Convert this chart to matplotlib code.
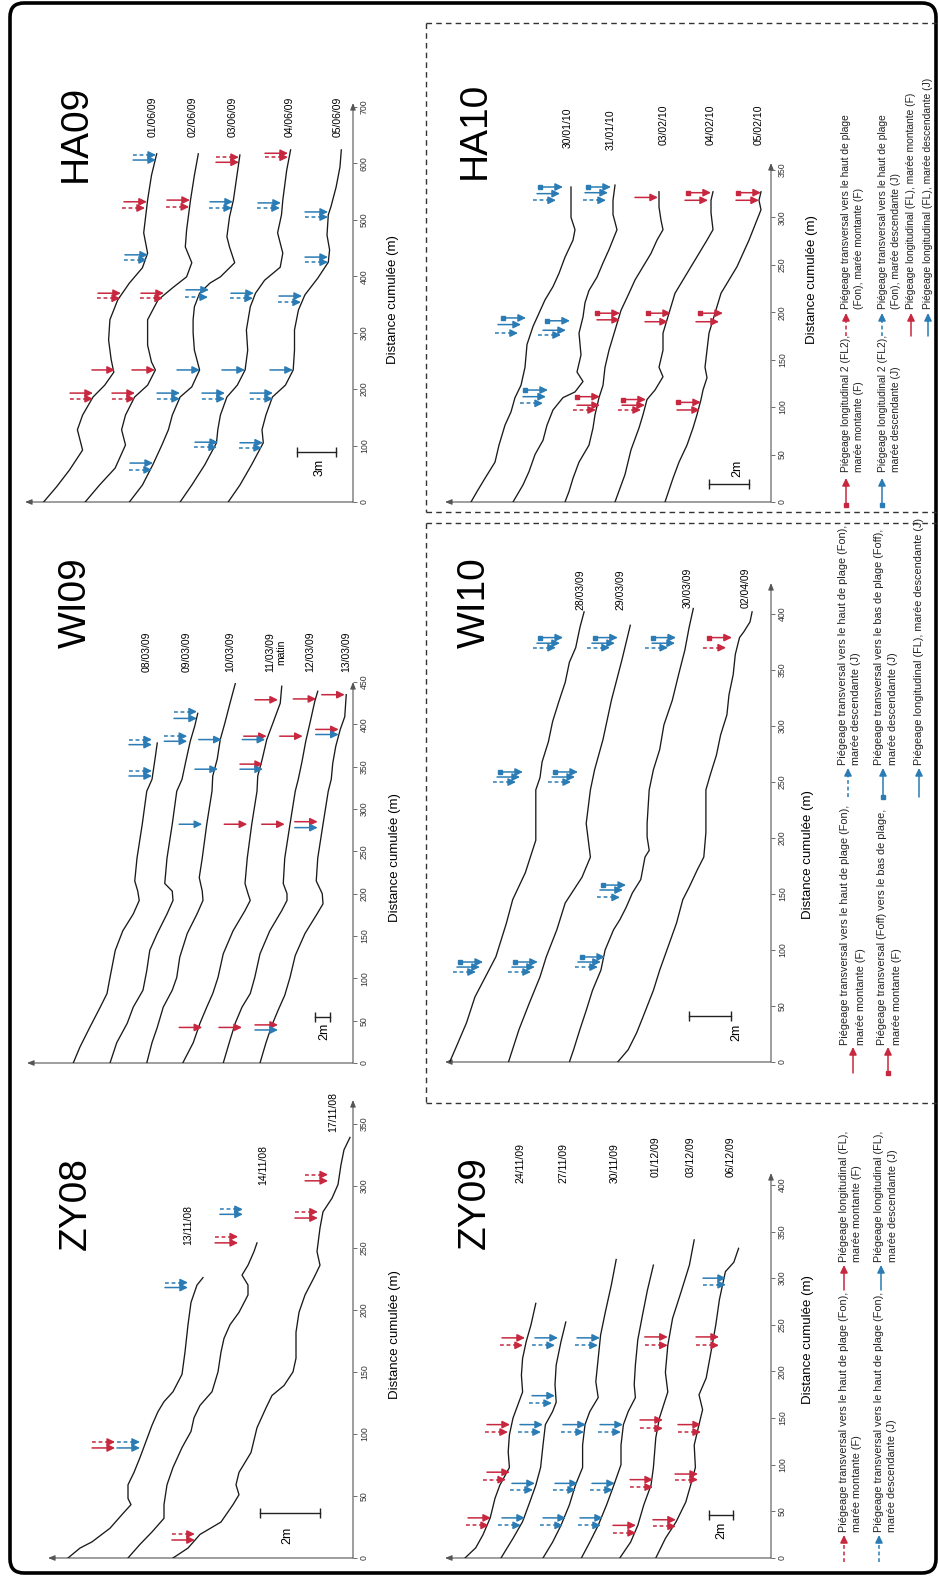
import numpy as np
import matplotlib
matplotlib.use('Agg')
import matplotlib.pyplot as plt
from matplotlib.patches import FancyBboxPatch

plt.rcParams['font.family'] = ['Liberation Sans', 'DejaVu Sans']

RED = '#c8283f'
BLUE = '#2b7cb5'
AXC = '#555555'

# ---------------- data: beach profiles (distance m, relative elevation m) -------------
ha09_dates = ['01/06/09', '02/06/09', '03/06/09', '04/06/09', '05/06/09']
ha09_dist = [
    [617, 579, 535, 477, 441, 415, 388, 358, 323, 287, 252, 230, 207, 186, 154, 128, 92, 57, 27, 0],
    [617, 579, 535, 482, 452, 424, 399, 381, 358, 323, 278, 248, 234, 207, 186, 154, 128, 101, 60, 30, 0],
    [615, 583, 535, 505, 470, 452, 424, 399, 388, 370, 346, 323, 300, 269, 234, 204, 186, 154, 128, 101, 66, 30, 0],
    [624, 588, 535, 509, 477, 441, 416, 393, 370, 346, 305, 269, 234, 207, 186, 154, 128, 105, 66, 30, 0],
    [624, 594, 558, 523, 509, 473, 447, 425, 397, 367, 340, 305, 269, 234, 207, 186, 154, 128, 105, 66, 30, 0],
]
ha09_elev = [
    [15.1, 15.5, 15.8, 16.1, 15.8, 16.2, 17.2, 18.1, 18.7, 18.8, 18.6, 18.4, 19.1, 20.0, 20.8, 21.2, 20.8, 21.8, 22.8, 23.8],
    [11.9, 12.2, 12.5, 12.8, 12.9, 12.4, 12.8, 13.8, 15.0, 15.8, 15.8, 15.5, 15.2, 15.8, 16.8, 17.5, 17.8, 17.5, 18.3, 19.5, 20.6],
    [8.7, 8.9, 9.2, 9.5, 9.7, 9.5, 9.1, 10.2, 11.0, 11.8, 12.2, 12.3, 12.3, 12.2, 11.8, 12.4, 13.3, 13.9, 14.2, 14.7, 15.4, 16.2, 17.2],
    [4.8, 5.1, 5.4, 5.5, 5.8, 5.4, 5.6, 6.8, 7.5, 7.9, 8.2, 8.1, 8.3, 8.9, 9.7, 10.2, 10.4, 10.5, 11.4, 12.4, 13.3],
    [0.9, 1.0, 1.3, 1.7, 1.9, 2.0, 1.8, 1.9, 2.7, 3.7, 4.2, 4.5, 4.5, 4.6, 5.2, 6.2, 6.7, 7.0, 6.9, 7.8, 8.7, 9.6],
]
ha09_arr_dist = [615, 606, 611, 602, 618, 611, 532, 521, 535, 523, 532, 521, 530, 521, 514, 505,
                 438, 429, 434, 425, 370, 361, 370, 361, 376, 363, 370, 361, 365, 354,
                 234, 234, 234, 234, 234, 193, 183, 193, 183, 193, 183, 193, 183, 193, 183,
                 69, 57, 106, 97, 105, 96]
ha09_arr_elev = [15.15, 15.15, 8.77, 8.77, 5.0, 5.0, 15.85, 16.0, 12.54, 12.6, 9.23, 9.3, 5.54, 5.62, 1.92, 1.92,
                 15.77, 15.85, 1.92, 1.92, 17.85, 17.92, 14.54, 14.62, 11.08, 11.15, 7.62, 7.69, 3.92, 4.0,
                 18.31, 15.23, 11.77, 8.31, 4.62, 20.0, 20.0, 16.77, 16.77, 13.31, 13.31, 9.85, 9.85, 6.15, 6.15,
                 15.38, 15.46, 10.38, 10.46, 6.92, 7.0]
ha09_arr_kind = ['Jd', 'Js', 'Fd', 'Fs', 'Fs', 'Fd', 'Fs', 'Fd', 'Fs', 'Fd', 'Js', 'Jd', 'Js', 'Jd', 'Js', 'Jd',
                 'Js', 'Jd', 'Js', 'Jd', 'Fs', 'Fd', 'Fs', 'Fd', 'Js', 'Jd', 'Js', 'Jd', 'Js', 'Jd',
                 'Fs', 'Fs', 'Js', 'Js', 'Js', 'Fs', 'Fd', 'Fs', 'Fd', 'Js', 'Jd', 'Js', 'Jd', 'Js', 'Jd',
                 'Js', 'Jd', 'Js', 'Jd', 'Js', 'Jd']

wi09_dates = ['08/03/09', '09/03/09', '10/03/09', '11/03/09\nmatin', '12/03/09', '13/03/09']
wi09_dist = [
    [378, 359, 335, 321, 282, 242, 215, 203, 192, 176, 156, 133, 101, 82, 66, 42, 19, 0],
    [413, 398, 380, 356, 335, 321, 282, 242, 212, 203, 192, 176, 153, 133, 109, 86, 66, 47, 24, 0],
    [448, 425, 401, 382, 359, 339, 321, 282, 242, 219, 203, 192, 176, 153, 125, 101, 86, 66, 42, 24, 0],
    [445, 425, 401, 382, 359, 339, 321, 282, 242, 212, 200, 192, 180, 156, 129, 101, 82, 66, 47, 24, 0],
    [439, 427, 403, 380, 356, 335, 321, 282, 242, 212, 200, 192, 180, 156, 129, 101, 82, 66, 47, 27, 0],
    [435, 409, 394, 374, 354, 335, 321, 282, 242, 215, 200, 188, 176, 153, 127, 101, 80, 62, 45, 24, 0],
]
wi09_elev = [
    [26.1, 26.4, 26.8, 27.5, 28.1, 28.8, 29.1, 28.7, 28.5, 29.3, 30.7, 31.7, 32.4, 32.8, 33.7, 35.1, 36.4, 37.3],
    [20.7, 21.1, 21.7, 22.3, 22.8, 23.5, 24.1, 24.8, 25.1, 24.1, 24.0, 24.8, 26.1, 27.1, 27.5, 28.0, 29.3, 30.1, 31.5, 32.4],
    [15.7, 16.4, 17.1, 17.7, 18.1, 18.7, 18.8, 19.5, 20.1, 20.5, 20.1, 20.0, 20.8, 22.1, 23.1, 23.5, 24.1, 25.3, 26.1, 26.8, 27.5],
    [9.5, 9.7, 10.7, 11.5, 12.1, 12.7, 12.8, 13.5, 14.1, 14.4, 14.0, 13.7, 14.4, 16.0, 17.3, 18.0, 18.7, 19.5, 20.4, 21.3, 22.7],
    [4.7, 5.1, 5.7, 6.3, 6.8, 7.3, 7.7, 8.4, 9.1, 9.3, 8.8, 8.8, 9.5, 11.1, 12.4, 13.1, 13.7, 14.8, 15.7, 16.4, 17.3],
    [0.9, 1.1, 1.7, 2.3, 2.7, 2.9, 3.3, 4.0, 4.7, 4.9, 4.1, 4.0, 4.8, 6.4, 7.7, 8.4, 9.1, 10.0, 10.8, 11.6, 12.4],
]
wi09_arr_dist = [382, 376, 345, 339, 415, 407, 386, 380, 382, 347, 429, 386, 382, 353, 347, 430, 386,
                 435, 394, 388, 282, 282, 282, 285, 278, 42, 42, 45, 39]
wi09_arr_elev = [26.8, 26.8, 26.8, 26.8, 20.8, 20.8, 22.1, 22.1, 17.5, 18.0, 10.0, 11.5, 11.7, 12.0, 12.0, 4.9, 6.7,
                 1.1, 1.9, 1.9, 20.1, 14.1, 9.1, 4.7, 4.7, 20.1, 14.8, 10.0, 10.0]
wi09_arr_kind = ['Jd', 'Js', 'Jd', 'Js', 'Jd', 'Js', 'Jd', 'Js', 'Js', 'Js', 'Fs', 'Fs', 'Js', 'Fs', 'Js', 'Fs', 'Fs',
                 'Fs', 'Fs', 'Js', 'Js', 'Fs', 'Fs', 'Fs', 'Js', 'Fs', 'Fs', 'Fs', 'Js']

zy08_dates = ['13/11/08', '14/11/08', '17/11/08']
zy08_dist = [
    [226, 220, 206, 188, 166, 148, 134, 126, 118, 107, 94, 81, 69, 59, 48, 43, 35, 24, 13, 8, 0],
    [254, 247, 236, 228, 220, 212, 198, 188, 177, 166, 150, 134, 123, 113, 102, 89, 73, 59, 43, 32, 21, 11, 0],
    [339, 329, 317, 301, 290, 279, 266, 247, 236, 226, 212, 198, 182, 161, 150, 139, 131, 121, 105, 85, 69, 59, 51, 43, 29, 19, 8, 0],
]
zy08_elev = [
    [5.0, 5.2, 5.4, 5.5, 5.6, 5.7, 6.0, 6.3, 6.5, 6.7, 6.9, 7.1, 7.3, 7.5, 7.5, 7.4, 7.7, 8.1, 8.7, 9.1, 9.5],
    [3.2, 3.3, 3.5, 3.7, 3.5, 3.5, 3.8, 4.1, 4.3, 4.4, 4.5, 4.7, 5.1, 5.3, 5.4, 5.7, 6.0, 6.2, 6.3, 6.3, 6.7, 7.1, 7.5],
    [0.1, 0.3, 0.4, 0.5, 0.7, 1.0, 1.1, 1.2, 1.1, 1.3, 1.6, 1.8, 1.9, 1.9, 2.0, 2.3, 2.7, 2.9, 3.2, 3.4, 3.8, 3.9, 3.8, 4.0, 4.4, 5.1, 5.5, 6.0],
]
zy08_arr_dist = [222, 218, 259, 254, 281, 277, 279, 274, 309, 304, 93.5, 88.7, 93.5, 88.7, 19.3, 14.5]
zy08_arr_elev = [5.5, 5.5, 3.83, 3.83, 3.67, 3.67, 1.17, 1.17, 0.83, 0.83, 7.93, 7.93, 7.1, 7.1, 5.27, 5.27]
zy08_arr_kind = ['Jd', 'Js', 'Fd', 'Fs', 'Jd', 'Js', 'Fd', 'Fs', 'Fd', 'Fs', 'Fd', 'Fs', 'Jd', 'Js', 'Fd', 'Fs']

ha10_dates = ['30/01/10', '31/01/10', '03/02/10', '04/02/10', '05/02/10']
ha10_dist = [
    [332, 318, 300, 287, 276, 258, 241, 227, 213, 199, 185, 166, 142, 123, 110, 95, 81, 60, 42, 25, 11, 0],
    [334, 318, 303, 287, 266, 252, 237, 223, 210, 195, 178, 155, 137, 127, 116, 110, 97, 81, 65, 50, 32, 18, 0],
    [327, 311, 297, 287, 276, 262, 248, 234, 220, 202, 181, 160, 142, 123, 110, 92, 78, 60, 42, 25, 11, 0],
    [327, 318, 305, 287, 276, 262, 248, 234, 220, 206, 192, 178, 160, 142, 132, 118, 108, 92, 78, 55, 29, 0],
    [327, 318, 308, 292, 276, 262, 248, 234, 220, 206, 192, 178, 160, 142, 131, 118, 108, 92, 78, 60, 42, 25, 0],
]
ha10_elev = [
    [10.0, 10.0, 10.0, 9.8, 9.9, 10.3, 10.6, 10.9, 11.3, 11.6, 11.9, 12.2, 12.3, 12.5, 12.8, 13.0, 13.3, 13.6, 13.8, 14.3, 14.7, 15.0],
    [7.8, 7.9, 7.9, 7.7, 8.1, 8.4, 8.7, 9.1, 9.3, 9.4, 9.6, 9.5, 9.7, 9.4, 9.8, 10.4, 10.9, 11.2, 11.4, 11.8, 12.1, 12.4, 12.9],
    [5.6, 5.6, 5.5, 5.4, 5.7, 6.0, 6.4, 6.8, 7.1, 7.5, 7.8, 8.1, 8.3, 8.4, 8.6, 8.8, 8.9, 9.1, 9.6, 9.9, 10.1, 10.3],
    [2.9, 3.0, 3.0, 2.9, 3.2, 3.6, 4.0, 4.4, 4.8, 5.0, 5.2, 5.4, 5.4, 5.6, 5.4, 5.8, 6.2, 6.4, 6.6, 7.0, 7.3, 7.8],
    [0.5, 0.6, 0.5, 0.8, 1.1, 1.4, 1.7, 2.1, 2.5, 2.7, 2.9, 3.1, 3.2, 3.3, 3.2, 3.4, 3.5, 3.7, 3.9, 4.2, 4.6, 4.9, 5.3],
]
ha10_arr_dist = [332, 325, 318, 332, 326, 318, 321, 326, 318, 326, 318,
                 194, 187, 178, 191, 181, 176, 199, 192, 199, 190, 199, 190,
                 118, 111, 104, 111, 102, 97, 108, 102, 97, 105, 97]
ha10_arr_elev = [10.4, 10.55, 10.75, 8.0, 8.15, 8.25, 5.65, 3.0, 3.15, 0.5, 0.6,
                 12.25, 12.5, 12.65, 10.05, 10.25, 10.5, 7.55, 7.55, 5.0, 5.15, 2.4, 2.6,
                 11.15, 11.25, 11.4, 8.55, 8.55, 8.75, 6.25, 6.3, 6.5, 3.5, 3.55]
ha10_arr_kind = ['J2', 'Js', 'Jd', 'J2', 'Js', 'Jd', 'Fs', 'F2', 'Fs', 'F2', 'Fs',
                 'J2', 'Js', 'Jd', 'J2', 'Js', 'Jd', 'F2', 'Fs', 'F2', 'Fs', 'F2', 'Fs',
                 'J2', 'Js', 'Jd', 'F2', 'Fs', 'Fd', 'F2', 'Fs', 'Fd', 'F2', 'Fs']

wi10_dates = ['28/03/09', '29/03/09', '30/03/09', '02/04/09']
wi10_dist = [
    [402, 388, 370, 357, 339, 322, 304, 286, 268, 254, 243, 213, 198, 169, 145, 124, 94, 76, 58, 35, 13, 0],
    [390, 359, 323, 288, 261, 243, 213, 183, 165, 142, 118, 94, 76, 53, 29, 0],
    [405, 388, 368, 346, 323, 301, 279, 261, 243, 213, 201, 189, 183, 163, 151, 138, 127, 118, 100, 82, 64, 46, 29, 11, 0],
    [402, 393, 384, 379, 364, 346, 328, 310, 292, 274, 256, 243, 205, 183, 172, 156, 145, 124, 103, 82, 64, 40, 26, 11, 0],
]
wi10_elev = [
    [8.9, 9.1, 9.3, 9.6, 9.8, 10.1, 10.4, 10.6, 10.9, 11.0, 11.2, 11.2, 11.2, 11.7, 12.3, 12.6, 13.1, 13.6, 14.1, 14.5, 15.0, 15.3],
    [6.7, 7.1, 7.6, 8.0, 8.4, 8.6, 8.8, 8.6, 9.0, 9.8, 10.2, 10.7, 11.0, 11.5, 12.0, 12.5],
    [3.7, 3.9, 4.1, 4.4, 4.7, 5.1, 5.3, 5.6, 5.8, 5.9, 5.9, 5.8, 6.0, 6.2, 6.6, 6.9, 7.2, 7.5, 7.9, 8.1, 8.5, 8.8, 9.1, 9.4, 9.6],
    [0.9, 1.0, 1.3, 1.5, 1.7, 1.8, 2.0, 2.1, 2.4, 2.6, 2.9, 3.1, 3.1, 3.2, 3.5, 3.9, 4.2, 4.5, 4.9, 5.3, 5.6, 6.1, 6.4, 6.8, 7.3],
]
wi10_arr_dist = [379, 374, 370, 379, 374, 370, 379, 374, 370, 379, 370,
                 259, 254.5, 250, 259, 254.5, 250, 158, 153.6, 147,
                 89.3, 84.8, 80.4, 89.3, 84.8, 80.4, 93.8, 89.3, 84.8]
wi10_arr_elev = [9.9, 10.05, 10.24, 7.29, 7.43, 7.67, 4.52, 4.57, 4.9, 1.86, 2.14,
                 11.81, 11.95, 12.14, 9.19, 9.33, 9.52, 6.9, 7.05, 7.19,
                 13.71, 13.86, 14.05, 11.1, 11.24, 11.43, 7.9, 8.1, 8.24]
wi10_arr_kind = ['J2', 'Js', 'Jd', 'J2', 'Js', 'Jd', 'J2', 'Js', 'Jd', 'F2', 'Fd',
                 'J2', 'Js', 'Jd', 'J2', 'Js', 'Jd', 'J2', 'Js', 'Jd',
                 'J2', 'Js', 'Jd', 'J2', 'Js', 'Jd', 'J2', 'Js', 'Jd']

zy09_dates = ['24/11/09', '27/11/09', '30/11/09', '01/12/09', '03/12/09', '06/12/09']
zy09_dist = [
    [273, 250, 232, 214, 196, 178, 150, 132, 114, 97, 78, 64, 43, 25, 11, 0],
    [253, 232, 207, 186, 167, 157, 143, 121, 97, 78, 60, 39, 21, 0],
    [320, 293, 264, 239, 214, 189, 172, 157, 143, 121, 97, 78, 57, 35, 17, 0],
    [314, 287, 261, 234, 207, 186, 172, 157, 143, 121, 100, 78, 57, 35, 17, 0],
    [341, 314, 285, 257, 228, 199, 178, 150, 129, 97, 78, 57, 35, 17, 0],
    [332, 317, 307, 277, 250, 221, 193, 175, 159, 143, 121, 97, 78, 60, 39, 21, 0],
]
zy09_elev = [
    [19.6, 20.0, 20.4, 20.7, 20.8, 20.7, 21.5, 21.8, 21.9, 21.8, 22.6, 23.0, 23.4, 24.0, 24.6, 25.5],
    [17.1, 17.5, 17.9, 18.0, 17.9, 18.2, 18.8, 19.0, 19.2, 19.6, 20.1, 20.7, 21.5, 22.5],
    [12.9, 13.3, 13.8, 14.2, 14.4, 14.6, 14.4, 15.1, 15.5, 15.7, 15.7, 16.3, 16.8, 17.5, 18.2, 19.0],
    [9.8, 10.3, 10.7, 11.1, 11.3, 11.4, 11.3, 11.9, 12.3, 12.5, 12.5, 13.1, 13.7, 14.4, 15.1, 15.8],
    [6.4, 6.8, 7.5, 8.2, 8.6, 8.8, 8.6, 9.3, 9.6, 9.8, 10.0, 10.6, 11.1, 11.7, 12.6],
    [2.7, 3.1, 3.8, 4.3, 4.6, 5.0, 5.4, 6.0, 5.7, 6.0, 6.4, 6.3, 6.7, 7.1, 7.9, 8.8, 9.6],
]
zy09_arr_dist = [236, 228, 236, 228, 236, 228, 174, 166,
                 143, 135, 143, 135, 143, 135, 143, 135,
                 92, 84, 80, 73, 80, 73, 80, 73,
                 43, 35, 43, 35, 43, 35, 43, 35, 35, 27,
                 300, 293, 148, 139, 143, 135, 90, 84, 84, 76, 41, 34,
                 237, 228, 237, 228]
zy09_arr_elev = [20.5, 20.67, 17.75, 18.0, 14.25, 14.42, 18.0, 18.25,
                 21.75, 21.92, 19.0, 19.17, 15.42, 15.58, 12.33, 12.5,
                 21.75, 22.08, 19.67, 19.83, 16.08, 16.25, 13.0, 13.17,
                 23.33, 23.5, 20.5, 20.83, 17.08, 17.33, 14.0, 14.17, 11.25, 11.25,
                 3.75, 3.75, 9.0, 9.0, 5.83, 5.83, 6.08, 6.08, 9.83, 9.83, 7.92, 7.92,
                 8.6, 8.6, 4.33, 4.33]
zy09_arr_kind = ['Fs', 'Fd', 'Js', 'Jd', 'Js', 'Jd', 'Js', 'Jd',
                 'Fs', 'Fd', 'Js', 'Jd', 'Js', 'Jd', 'Js', 'Jd',
                 'Fs', 'Fd', 'Js', 'Jd', 'Js', 'Jd', 'Js', 'Jd',
                 'Fs', 'Fd', 'Js', 'Jd', 'Js', 'Jd', 'Js', 'Jd', 'Fs', 'Fd',
                 'Js', 'Jd', 'Fs', 'Fd', 'Fs', 'Fd', 'Fs', 'Fd', 'Fs', 'Fd', 'Fs', 'Fd',
                 'Fs', 'Fd', 'Fs', 'Fd']

# ---------------- layout (page pixels) -------------
W, H = 939, 1577
fig = plt.figure(figsize=(W / 100, H / 100), dpi=100)
page = fig.add_axes([0, 0, 1, 1])
page.set_xlim(0, W)
page.set_ylim(H, 0)
page.axis('off')


def arrow_style(col, lw=1.1):
    return dict(arrowstyle='-|>,head_length=0.45,head_width=0.22', color=col, lw=lw,
                shrinkA=0, shrinkB=0, mutation_scale=10)


def draw_arrow(ax, e, d, kind, L=23):
    col = RED if kind[0] == 'F' else BLUE
    tip = ax.transData.transform((e, d))
    tail = ax.transData.inverted().transform((tip[0] - L, tip[1]))
    neck = ax.transData.inverted().transform((tip[0] - 8, tip[1]))
    if kind[1] == 'd':
        ax.plot([tail[0], neck[0]], [d, d], color=col, lw=1.1, ls=(0, (2.5, 1.8)), zorder=4)
        ax.annotate('', xy=(e, d), xytext=(neck[0], d), arrowprops=arrow_style(col), zorder=4)
    else:
        ax.annotate('', xy=(e, d), xytext=(tail[0], d), arrowprops=arrow_style(col), zorder=4)
    if kind[1] == '2':
        ax.plot(tail[0], d, marker='s', ms=3.2, color=col, zorder=4)


def panel(xr, y0, xl, yt, ppe, ppd, ticks):
    ax = fig.add_axes([xl / W, 1 - y0 / H, (xr - xl) / W, (y0 - yt) / H])
    ax.set_xlim((xr - xl) / ppe, 0)
    ax.set_ylim(0, (y0 - yt) / ppd)
    ax.patch.set_visible(False)
    for s in ax.spines.values():
        s.set_visible(False)
    ax.set_xticks([])
    ax.yaxis.tick_right()
    ax.set_yticks(ticks)
    ax.set_yticklabels([str(t) for t in ticks], rotation=90, va='center', ha='left')
    ax.tick_params(axis='y', length=3, width=0.6, color=AXC, labelsize=6.3,
                   labelcolor='#333333', pad=2)
    ap = dict(arrowstyle='-|>,head_length=0.5,head_width=0.2', color=AXC, lw=0.8,
              shrinkA=0, shrinkB=0, mutation_scale=8)
    ax.annotate('', xy=(1, 1), xytext=(1, 0), xycoords='axes fraction', arrowprops=ap)
    ax.annotate('', xy=(0, 0), xytext=(1, 0), xycoords='axes fraction', arrowprops=ap)
    return ax


panels = [
    # name, (xr, y0, x_left, y_top, px/m elev, px/m dist), ticks, profiles, arrows
    ('HA09', (353, 502, 25, 103, 13, 0.5643), range(0, 701, 100),
     ha09_dist, ha09_elev, (ha09_arr_dist, ha09_arr_elev, ha09_arr_kind)),
    ('WI09', (353, 1063, 27, 682, 7.5, 0.8503), range(0, 451, 50),
     wi09_dist, wi09_elev, (wi09_arr_dist, wi09_arr_elev, wi09_arr_kind)),
    ('ZY08', (353, 1558, 48, 1100, 30, 1.2407), range(0, 351, 50),
     zy08_dist, zy08_elev, (zy08_arr_dist, zy08_arr_elev, zy08_arr_kind)),
    ('HA10', (771, 502, 445, 163, 20, 0.9488), range(0, 351, 50),
     ha10_dist, ha10_elev, (ha10_arr_dist, ha10_arr_elev, ha10_arr_kind)),
    ('WI10', (771, 1062, 445, 583, 21, 1.1198), range(0, 401, 50),
     wi10_dist, wi10_elev, (wi10_arr_dist, wi10_arr_elev, wi10_arr_kind)),
    ('ZY09', (771, 1558, 445, 1173, 12, 0.9328), range(0, 401, 50),
     zy09_dist, zy09_elev, (zy09_arr_dist, zy09_arr_elev, zy09_arr_kind)),
]

# scale bars: elevation start, bar length (m), distance, label, label position
scale_bars = {
    'HA09': (1.31, 3, 88.6, '3m', (320, 467)),
    'WI09': (3.07, 2, 54, '2m', (324, 1031)),
    'ZY08': (1.1, 2, 36.3, '2m', (287, 1535)),
    'HA10': (1.1, 2, 19, '2m', (737, 468)),
    'WI10': (1.9, 2, 41, '2m', (736, 1032)),
    'ZY09': (3.17, 2, 46, '2m', (721, 1530)),
}
titles = {'HA09': (76, 133), 'WI09': (76, 603), 'ZY08': (76, 1203),
          'HA10': (475, 130), 'WI10': (475, 603), 'ZY09': (475, 1203)}
dist_label = {'HA09': (393, 300), 'WI09': (395, 858), 'ZY08': (395, 1335),
              'HA10': (812, 280), 'WI10': (808, 855), 'ZY09': (808, 1340)}
date_pos = {
    'HA09': [(153, 117), (193, 117), (233, 117), (290, 117), (338, 117)],
    'WI09': [(147, 652), (187, 652), (230, 652), (276, 652), (310, 652), (346, 652)],
    'ZY08': [(188, 1225), (263, 1165), (333, 1112)],
    'HA10': [(568, 128), (611, 130), (664, 125), (711, 125), (759, 125)],
    'WI10': [(580, 590), (620, 590), (688, 588), (746, 588)],
    'ZY09': [(520, 1163), (563, 1163), (615, 1163), (656, 1157), (691, 1157), (731, 1157)],
}
dates = {'HA09': ha09_dates, 'WI09': wi09_dates, 'ZY08': zy08_dates,
         'HA10': ha10_dates, 'WI10': wi10_dates, 'ZY09': zy09_dates}

for name, geo, ticks, dists, elevs, arrows in panels:
    ax = panel(*geo, list(ticks))
    for d, e in zip(dists, elevs):
        ax.plot(e, d, color='#1a1a1a', lw=0.95, zorder=3)
    for d, e, k in zip(*arrows):
        draw_arrow(ax, e, d, k)
    e1, blen, bd, btxt, bpos = scale_bars[name]
    ax.plot([e1, e1 + blen], [bd, bd], color='#222222', lw=1.0, marker='|', ms=7, mew=1.0)
    page.text(bpos[0], bpos[1], btxt, rotation=90, ha='center', va='center', fontsize=9)
    tx, ty = titles[name]
    page.text(tx, ty, name, rotation=90, ha='center', va='center', fontsize=28)
    lx, ly = dist_label[name]
    page.text(lx, ly, 'Distance cumulée (m)', rotation=90, ha='center', va='center', fontsize=9.5)
    for (x, y), s in zip(date_pos[name], dates[name]):
        page.text(x, y, s, rotation=90, ha='center', va='center', fontsize=7.5,
                  multialignment='center', linespacing=1.1)

# ---------------- frames -------------
page.add_patch(FancyBboxPatch((10, 3), 926, 1570, boxstyle='round,pad=0,rounding_size=14',
                              lw=2.6, ec='black', fc='none'))
dash = dict(color='#333333', lw=1.0, ls=(0, (4, 3)))
page.plot([426, 426], [23, 512], **dash)
page.plot([426, 936], [23, 23], **dash)
page.plot([426, 936], [512, 512], **dash)
page.plot([426, 426], [523, 1103], **dash)
page.plot([426, 936], [523, 523], **dash)
page.plot([426, 936], [1103, 1103], **dash)

# ---------------- legends -------------
legend_items = [
    ('F2', 846, 505, 478, [(846, 472, 'Piégeage longitudinal 2 (FL2),'), (859, 472, 'marée montante (F)')]),
    ('J2', 882, 505, 478, [(883, 472, 'Piégeage longitudinal 2 (FL2),'), (896, 472, 'marée descendante (J)')]),
    ('Fd', 846, 336, 313, [(846, 309, 'Piégeage transversal vers le haut de plage'), (859, 309, '(Fon), marée montante (F)')]),
    ('Jd', 882, 336, 313, [(883, 309, 'Piégeage transversal vers le haut de plage'), (896, 309, '(Fon), marée descendante (J)')]),
    ('Fs', 911, 336, 313, [(911, 309, 'Piégeage longitudinal (FL), marée montante (F)')]),
    ('Js', 928, 336, 313, [(928, 309, 'Piégeage longitudinal (FL), marée descendante (J)')]),

    ('Fs', 853, 1073, 1047, [(845, 1045, 'Piégeage transversal vers le haut de plage (Fon),'), (861, 1045, 'marée montante (F)')]),
    ('F2', 888, 1073, 1047, [(882, 1045, 'Piégeage transversal (Foff) vers le bas de plage,'), (897, 1045, 'marée montante (F)')]),
    ('Jd', 848, 797, 768, [(843, 765, 'Piégeage transversal vers le haut de plage (Fon),'), (856, 765, 'marée descendante (J)')]),
    ('J2', 883, 797, 768, [(879, 765, 'Piégeage transversal vers le bas de plage (Foff),'), (893, 765, 'marée descendante (J)')]),
    ('Js', 919, 797, 768, [(919, 765, 'Piégeage longitudinal (FL), marée descendante (J)')]),

    ('Fd', 844, 1562, 1535, [(844, 1532, 'Piégeage transversal vers le haut de plage (Fon),'), (857, 1532, 'marée montante (F)')]),
    ('Jd', 879, 1562, 1535, [(879, 1532, 'Piégeage transversal vers le haut de plage (Fon),'), (892, 1532, 'marée descendante (J)')]),
    ('Fs', 844, 1290, 1265, [(844, 1262, 'Piégeage longitudinal (FL),'), (857, 1262, 'marée montante (F)')]),
    ('Js', 881, 1290, 1265, [(879, 1262, 'Piégeage longitudinal (FL),'), (893, 1262, 'marée descendante (J)')]),
]

for kind, x, yb, yt, lines in legend_items:
    col = RED if kind[0] == 'F' else BLUE
    if kind[1] == 'd':
        page.plot([x, x], [yb, yt + 8], color=col, lw=1.1, ls=(0, (2.5, 1.8)))
        page.annotate('', xy=(x, yt), xytext=(x, yt + 8), arrowprops=arrow_style(col))
    else:
        page.annotate('', xy=(x, yt), xytext=(x, yb), arrowprops=arrow_style(col))
    if kind[1] == '2':
        page.plot(x, yb, marker='s', ms=3.2, color=col)
    fs = 7.4 if yb < 520 else 7.8
    for lx, ly, s in lines:
        page.text(lx, ly, s, rotation=90, ha='center', va='bottom', fontsize=fs, color='#222222')

fig.savefig('out.png', dpi=100)
